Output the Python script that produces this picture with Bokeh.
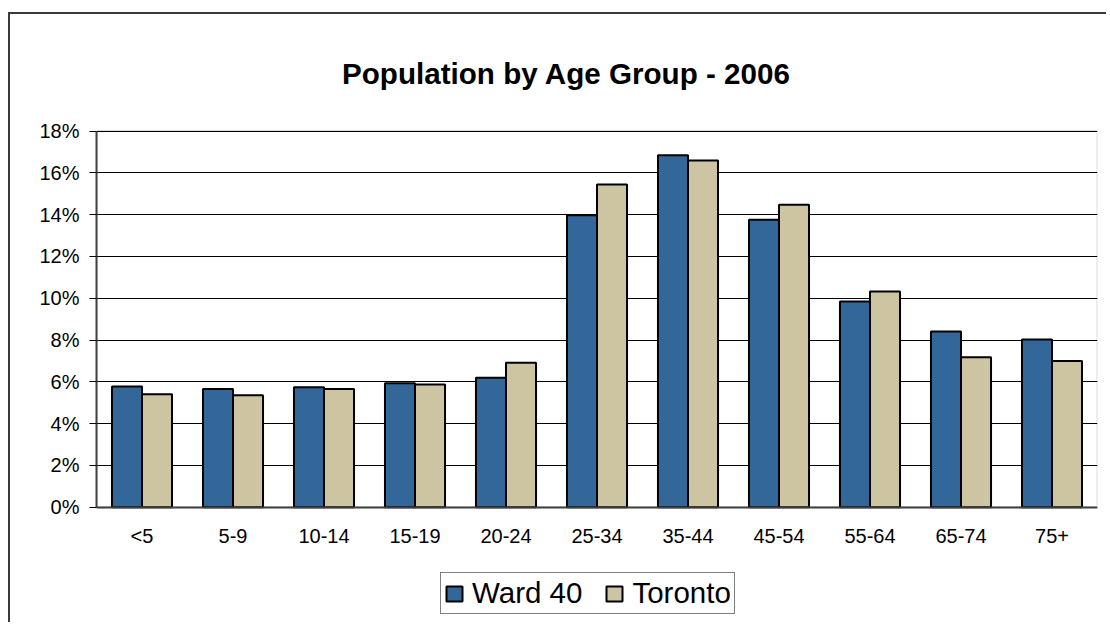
from bokeh.plotting import figure
from bokeh.models import (FactorRange, Range1d, SingleIntervalTicker, NumeralTickFormatter,
                          Legend, LegendItem, ColumnDataSource, Label, BoxAnnotation)
from bokeh.transform import dodge
from bokeh.embed import file_html
from bokeh.resources import INLINE

categories = ["<5", "5-9", "10-14", "15-19", "20-24", "25-34", "35-44", "45-54", "55-64", "65-74", "75+"]
ward40 = [5.77, 5.65, 5.74, 5.93, 6.19, 13.97, 16.84, 13.75, 9.84, 8.41, 8.02]
toronto = [5.41, 5.36, 5.65, 5.87, 6.91, 15.44, 16.59, 14.47, 10.32, 7.18, 6.99]
series_names = ["Ward 40", "Toronto"]
title_text = "Population by Age Group - 2006"
y_max = 0.18
y_step = 0.02

src = ColumnDataSource(data=dict(
    cat=categories,
    ward=[v / 100 for v in ward40],
    tor=[v / 100 for v in toronto],
))

FONT = "Liberation Sans"
BLUE = "#336699"
TAN = "#CDC5A2"

# layout (canvas pixels)
W, H = 1098, 610
LEFT, RIGHT = 86, 11
ZERO_PX, TOP_PX = 492.7, 116.5          # canvas y of 0% and of 18%
px_per_unit = (ZERO_PX - TOP_PX) / y_max
y_lo = -(H - ZERO_PX) / px_per_unit
y_hi = y_max + TOP_PX / px_per_unit

p = figure(width=W, height=H, output_backend="svg", toolbar_location=None,
           x_range=FactorRange(*categories, range_padding=0),
           y_range=Range1d(y_lo, y_hi),
           min_border_left=LEFT, min_border_right=RIGHT, min_border_top=0, min_border_bottom=0)
p.title.visible = False

p.styles = {"border-left": "2px solid #3a3a3a", "border-top": "2px solid #3a3a3a",
            "margin-top": "12px", "margin-left": "8px"}

# plot-area border (gray), drawn beneath the grid
box = BoxAnnotation(bottom=0, top=y_max, fill_alpha=0, line_color="#8c8c8c", line_width=2,
                    level="image")
p.add_layout(box)

r1 = p.vbar(x=dodge("cat", -0.165, range=p.x_range), top="ward", width=0.33, source=src,
            fill_color=BLUE, line_color="black", line_width=2)
r2 = p.vbar(x=dodge("cat", 0.165, range=p.x_range), top="tor", width=0.33, source=src,
            fill_color=TAN, line_color="black", line_width=2)

p.add_layout(Label(x=470, y=H - 59, x_units="screen", y_units="screen", text=title_text,
                   text_align="center", text_baseline="alphabetic",
                   text_font=FONT, text_font_size="29.6px", text_font_style="bold",
                   text_color="black"))

p.yaxis.ticker = SingleIntervalTicker(interval=y_step, num_minor_ticks=0)
p.yaxis.bounds = (0, y_max)
p.yaxis.formatter = NumeralTickFormatter(format="0%")
p.yaxis.major_tick_out = 7
p.yaxis.major_tick_in = 0
p.yaxis.minor_tick_out = 0
p.yaxis.major_label_standoff = 10
p.yaxis.axis_line_color = "#404040"
p.yaxis.axis_line_width = 2
p.yaxis.major_tick_line_color = "black"

p.xaxis.fixed_location = 0
p.xaxis.major_tick_out = 0
p.xaxis.major_tick_in = 0
p.xaxis.major_label_standoff = 18
p.xaxis.axis_line_color = "#404040"
p.xaxis.axis_line_width = 2

for ax in (p.xaxis, p.yaxis):
    ax.major_label_text_font = FONT
    ax.major_label_text_font_size = "20px"
    ax.major_label_text_color = "black"

p.xgrid.grid_line_color = None
p.ygrid.grid_line_color = "black"
p.ygrid.grid_line_width = 1
p.ygrid.bounds = (0, y_max)
p.ygrid.ticker = SingleIntervalTicker(interval=y_step, num_minor_ticks=0)

p.outline_line_color = None

legend = Legend(items=[LegendItem(label=series_names[0], renderers=[r1]),
                       LegendItem(label=series_names[1], renderers=[r2])],
                orientation="horizontal", location=(344, 10),
                label_text_font=FONT, label_text_font_size="29.5px", label_text_color="black",
                glyph_width=20, glyph_height=19, label_standoff=8, spacing=22,
                padding=3, margin=0, border_line_color="black", border_line_width=1,
                background_fill_alpha=1)
p.add_layout(legend, "center")

open("out.html", "w").write(file_html(p, INLINE))
